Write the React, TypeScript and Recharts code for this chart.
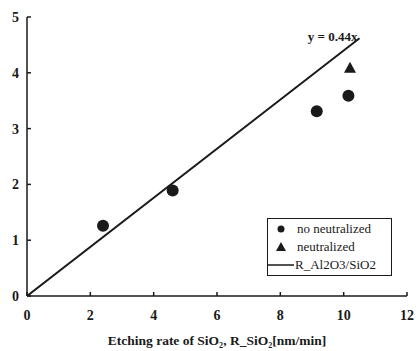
import React from "react";
import {
  ComposedChart,
  Scatter,
  XAxis,
  YAxis,
  ReferenceDot,
} from "recharts";

const noNeutralX = [2.4, 4.6, 9.15, 10.15];
const noNeutralY = [1.26, 1.89, 3.31, 3.59];
const neutralX = [10.2];
const neutralY = [4.09];
const fitX = [0, 10.5];
const fitY = [0, 4.62];
const xTicks = [0, 2, 4, 6, 8, 10, 12];
const yTicks = [0, 1, 2, 3, 4, 5];

const noNeutral = noNeutralX.map((x, i) => ({ x, y: noNeutralY[i] }));
const neutral = neutralX.map((x, i) => ({ x, y: neutralY[i] }));
const fit = fitX.map((x, i) => ({ x, y: fitY[i] }));

const ink = "#1a1a1a";
const font = "'Liberation Serif', 'DejaVu Serif', serif";

function Triangle(props: any) {
  const { cx, cy } = props;
  return <path d={`M${cx},${cy - 6} L${cx + 6},${cy + 5} L${cx - 6},${cy + 5} Z`} fill={ink} />;
}

// legend drawn as an overlay so it does not shrink the plot area
function LegendBox() {
  const row = { display: "flex", alignItems: "center", height: 18 } as const;
  return (
    <div
      style={{
        position: "absolute",
        left: 267,
        top: 218,
        border: `1.5px solid ${ink}`,
        padding: "1px 3px 1px 0",
        fontFamily: font,
        fontSize: 13,
        color: ink,
        background: "#fff",
        width: 125,
        boxSizing: "border-box",
      }}
    >
      <div style={row}>
        <svg width={26} height={12}><circle cx={13} cy={6} r={3.5} fill={ink} /></svg>
        <span style={{ marginLeft: 3 }}>no neutralized</span>
      </div>
      <div style={row}>
        <svg width={26} height={12}><path d="M13,1 L18,10 L8,10 Z" fill={ink} /></svg>
        <span style={{ marginLeft: 3 }}>neutralized</span>
      </div>
      <div style={row}>
        <svg width={26} height={12}><line x1={0} y1={6} x2={26} y2={6} stroke={ink} strokeWidth={1.5} /></svg>
        <span style={{ marginLeft: 1 }}>R_Al2O3/SiO2</span>
      </div>
    </div>
  );
}

export default function App() {
  return (
    <div style={{ position: "absolute", left: 0, top: 0, width: 420, height: 351, background: "#fff" }}>
      <ComposedChart
        width={420}
        height={351}
        margin={{ top: 17, right: 13, left: 7, bottom: 20 }}
      >
        <XAxis
          type="number"
          dataKey="x"
          domain={[0, 12]}
          ticks={xTicks}
          allowDataOverflow
          stroke={ink}
          strokeWidth={1.5}
          tickSize={-4}
          tickMargin={18}
          height={35}
          tick={{ fill: ink, fontSize: 14, fontWeight: "bold", fontFamily: font }}
          label={{
            value: "Etching rate of SiO₂, R_SiO₂[nm/min]",
            position: "insideBottom",
            offset: -14,
            fill: ink,
            fontSize: 13.5,
            fontWeight: "bold",
            fontFamily: font,
          }}
        />
        <YAxis
          type="number"
          dataKey="y"
          domain={[0, 5]}
          ticks={yTicks}
          allowDataOverflow
          stroke={ink}
          strokeWidth={1.5}
          tickSize={-4}
          tickMargin={12}
          width={20}
          tick={{ fill: ink, fontSize: 14, fontWeight: "bold", fontFamily: font }}
        />
        <Scatter
          name="R_Al2O3/SiO2"
          data={fit}
          line={{ stroke: ink, strokeWidth: 2 }}
          shape={() => null}
          isAnimationActive={false}
        />
        <Scatter
          name="no neutralized"
          data={noNeutral}
          fill={ink}
          shape={(p: any) => <circle cx={p.cx} cy={p.cy} r={6} fill={ink} />}
          isAnimationActive={false}
        />
        <Scatter
          name="neutralized"
          data={neutral}
          fill={ink}
          shape={Triangle}
          isAnimationActive={false}
        />
        <ReferenceDot
          x={9.65}
          y={4.66}
          r={0}
          label={{
            value: "y = 0.44x",
            position: "center",
            fill: ink,
            fontSize: 13,
            fontWeight: "bold",
            fontFamily: font,
          }}
        />
      </ComposedChart>
      <LegendBox />
    </div>
  );
}
